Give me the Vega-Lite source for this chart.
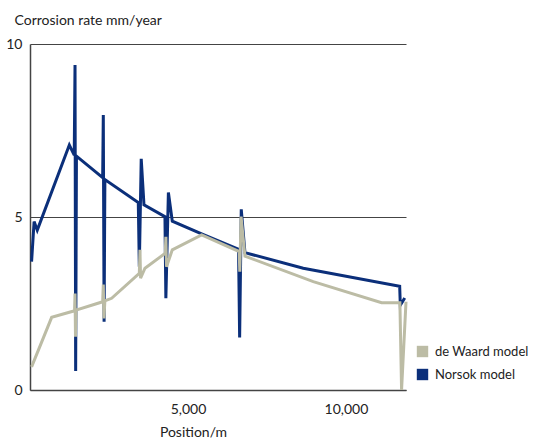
{
  "$schema": "https://vega.github.io/schema/vega-lite/v6.json",
  "autosize": "none",
  "width": 376,
  "height": 346,
  "padding": {"left": 30, "top": 44, "right": 129, "bottom": 52},
  "background": "white",
  "config": {
    "view": {"stroke": null},
    "font": "Lato",
    "axis": {"labelFont": "Lato", "titleFont": "Lato", "labelColor": "#222", "titleColor": "#222", "labelFontSize": 14, "titleFontSize": 14, "titleFontWeight": "normal", "domainColor": "#444", "domainWidth": 1.5},
    "legend": {"labelFont": "Lato", "labelFontSize": 13, "labelColor": "#222", "labelLimit": 200}
  },
  "datasets": {
    "norsok": [
      {"pos": 50, "rate": 3.71}, {"pos": 130, "rate": 4.87}, {"pos": 230, "rate": 4.62},
      {"pos": 1245, "rate": 7.08}, {"pos": 1400, "rate": 6.79}, {"pos": 1425, "rate": 9.39},
      {"pos": 1445, "rate": 0.55}, {"pos": 1470, "rate": 6.76}, {"pos": 2300, "rate": 6.14},
      {"pos": 2320, "rate": 7.95}, {"pos": 2345, "rate": 1.97}, {"pos": 2370, "rate": 6.08},
      {"pos": 3427, "rate": 5.42}, {"pos": 3460, "rate": 3.56}, {"pos": 3520, "rate": 6.68},
      {"pos": 3607, "rate": 5.35}, {"pos": 4271, "rate": 5.01}, {"pos": 4300, "rate": 2.65},
      {"pos": 4380, "rate": 5.71}, {"pos": 4503, "rate": 4.88}, {"pos": 5432, "rate": 4.51},
      {"pos": 6600, "rate": 4.07}, {"pos": 6635, "rate": 1.52}, {"pos": 6686, "rate": 5.22},
      {"pos": 6803, "rate": 3.97}, {"pos": 8648, "rate": 3.52}, {"pos": 11700, "rate": 3.0},
      {"pos": 11720, "rate": 2.45}, {"pos": 11860, "rate": 2.66}
    ],
    "dewaard": [
      {"pos": 50, "rate": 0.67}, {"pos": 686, "rate": 2.10}, {"pos": 1410, "rate": 2.29},
      {"pos": 1425, "rate": 2.79}, {"pos": 1440, "rate": 1.54}, {"pos": 1460, "rate": 2.31},
      {"pos": 2300, "rate": 2.55}, {"pos": 2320, "rate": 3.05}, {"pos": 2340, "rate": 2.07},
      {"pos": 2370, "rate": 2.58}, {"pos": 2584, "rate": 2.65}, {"pos": 3460, "rate": 3.37},
      {"pos": 3480, "rate": 4.05}, {"pos": 3500, "rate": 3.23}, {"pos": 3638, "rate": 3.52},
      {"pos": 4280, "rate": 3.95}, {"pos": 4300, "rate": 4.43}, {"pos": 4320, "rate": 3.56},
      {"pos": 4503, "rate": 4.05}, {"pos": 5432, "rate": 4.48}, {"pos": 6620, "rate": 4.0},
      {"pos": 6640, "rate": 3.42}, {"pos": 6680, "rate": 5.01}, {"pos": 6803, "rate": 3.87},
      {"pos": 8965, "rate": 3.13}, {"pos": 11128, "rate": 2.52}, {"pos": 11707, "rate": 2.52},
      {"pos": 11760, "rate": 0.0}, {"pos": 11900, "rate": 2.55}
    ]
  },
  "resolve": {"axis": {"x": "shared", "y": "shared"}},
  "layer": [
    {
      "data": {"name": "norsok"},
      "transform": [{"calculate": "'Norsok model'", "as": "model"}],
      "mark": {"type": "line", "strokeWidth": 3, "clip": false},
      "encoding": {
        "x": {"field": "pos", "type": "quantitative", "scale": {"domain": [0, 11900], "nice": false},
          "axis": {"values": [5000, 10000], "format": ",d", "formatType": "number", "ticks": false, "grid": false, "labelPadding": 12, "title": "Position/m", "titleX": 163, "titleY": 42, "titleBaseline": "middle"}},
        "y": {"field": "rate", "type": "quantitative", "scale": {"domain": [0, 10], "nice": false},
          "axis": {"values": [0, 5, 10], "format": "d", "ticks": false, "grid": true, "gridColor": "#444", "gridWidth": 1.2, "gridOpacity": 1, "labelPadding": 8, "title": "Corrosion rate mm/year", "titleAngle": 0, "titleAlign": "left", "titleBaseline": "middle", "titleX": -16, "titleY": -24}},
        "color": {"field": "model", "type": "nominal",
          "scale": {"domain": ["de Waard model", "Norsok model"], "range": ["#bcbca5", "#0b2f7a"]},
          "legend": {"title": null, "orient": "none", "legendX": 386, "legendY": 301, "symbolType": "square", "symbolSize": 130, "symbolStrokeWidth": 0, "rowPadding": 9, "labelOffset": 6,
            "encode": {"symbols": {"update": {"fill": {"field": "value", "scale": "color"}, "fillOpacity": {"value": 1}}}}}}
      }
    },
    {
      "data": {"name": "dewaard"},
      "transform": [{"calculate": "'de Waard model'", "as": "model"}],
      "mark": {"type": "line", "strokeWidth": 3, "clip": false},
      "encoding": {
        "x": {"field": "pos", "type": "quantitative"},
        "y": {"field": "rate", "type": "quantitative"},
        "color": {"field": "model", "type": "nominal"}
      }
    }
  ]
}
